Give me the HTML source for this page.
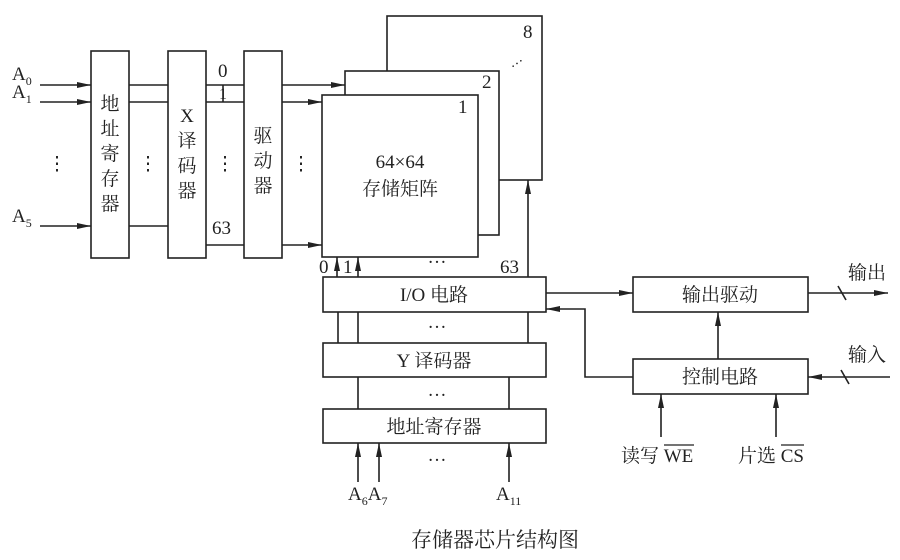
<!DOCTYPE html>
<html><head><meta charset="utf-8"><style>
html,body{margin:0;padding:0;background:#fff}
svg{display:block}
text{font-family:"Liberation Serif","Noto Serif CJK SC","Noto Sans CJK SC",serif;fill:#222}
</style></head><body>
<svg width="900" height="560" viewBox="0 0 900 560" xmlns="http://www.w3.org/2000/svg">
<defs><marker id="a" markerWidth="14" markerHeight="8" refX="14" refY="4" orient="auto" markerUnits="userSpaceOnUse"><path d="M0,1 L14,4 L0,7 Z" fill="#222"/></marker></defs>
<g stroke="#222" stroke-width="1.6" fill="#fff">
<rect x="387" y="16" width="155" height="164"/>
<rect x="345" y="71" width="154" height="164"/>
<rect x="322" y="95" width="156" height="162"/>
<rect x="91" y="51" width="38" height="207"/>
<rect x="168" y="51" width="38" height="207"/>
<rect x="244" y="51" width="38" height="207"/>
<rect x="323" y="277" width="223" height="35"/>
<rect x="323" y="343" width="223" height="34"/>
<rect x="323" y="409" width="223" height="34"/>
<rect x="633" y="277" width="175" height="35"/>
<rect x="633" y="359" width="175" height="35"/>
</g>
<g stroke="#222" stroke-width="1.6" fill="none">
<line x1="40" y1="85" x2="91" y2="85" marker-end="url(#a)"/>
<line x1="40" y1="102" x2="91" y2="102" marker-end="url(#a)"/>
<line x1="40" y1="226" x2="91" y2="226" marker-end="url(#a)"/>
<line x1="129" y1="85" x2="168" y2="85"/><line x1="129" y1="102" x2="168" y2="102"/><line x1="129" y1="226" x2="168" y2="226"/>
<line x1="206" y1="85" x2="244" y2="85"/><line x1="206" y1="102" x2="244" y2="102"/><line x1="206" y1="245" x2="244" y2="245"/>
<line x1="223" y1="85" x2="223" y2="102"/>
<line x1="282" y1="85" x2="345" y2="85" marker-end="url(#a)"/>
<line x1="282" y1="102" x2="322" y2="102" marker-end="url(#a)"/>
<line x1="282" y1="245" x2="322" y2="245" marker-end="url(#a)"/>
<line x1="528" y1="277" x2="528" y2="180" marker-end="url(#a)"/>
<line x1="337" y1="277" x2="337" y2="257" marker-end="url(#a)"/>
<line x1="358" y1="277" x2="358" y2="257" marker-end="url(#a)"/>
<line x1="338" y1="312" x2="338" y2="343"/><line x1="358" y1="312" x2="358" y2="343"/><line x1="528" y1="312" x2="528" y2="343"/>
<line x1="358" y1="377" x2="358" y2="409"/><line x1="509" y1="377" x2="509" y2="409"/>
<line x1="358" y1="482" x2="358" y2="443" marker-end="url(#a)"/>
<line x1="379" y1="482" x2="379" y2="443" marker-end="url(#a)"/>
<line x1="509" y1="482" x2="509" y2="443" marker-end="url(#a)"/>
<line x1="546" y1="293" x2="633" y2="293" marker-end="url(#a)"/>
<polyline points="633,377 585,377 585,309 546,309" marker-end="url(#a)"/>
<line x1="718" y1="359" x2="718" y2="312" marker-end="url(#a)"/>
<line x1="808" y1="293" x2="888" y2="293" marker-end="url(#a)"/>
<line x1="838" y1="286" x2="846" y2="300"/>
<line x1="890" y1="377" x2="808" y2="377" marker-end="url(#a)"/>
<line x1="841" y1="370" x2="849" y2="384"/>
<line x1="661" y1="437" x2="661" y2="394" marker-end="url(#a)"/>
<line x1="776" y1="437" x2="776" y2="394" marker-end="url(#a)"/>
</g>
<g font-size="19">
<text x="12" y="80">A<tspan font-size="12" dy="5">0</tspan></text>
<text x="12" y="98">A<tspan font-size="12" dy="5">1</tspan></text>
<text x="12" y="222">A<tspan font-size="12" dy="5">5</tspan></text>
<text x="218" y="77">0</text><text x="219" y="99" font-size="16">1</text><text x="212" y="234">63</text>
<g text-anchor="middle">
<text x="57" y="170">⋮</text><text x="148" y="170">⋮</text><text x="225" y="170">⋮</text><text x="301" y="170">⋮</text>
<text x="110" y="110">地</text><text x="110" y="135">址</text><text x="110" y="160">寄</text><text x="110" y="185">存</text><text x="110" y="210">器</text>
<text x="187" y="122">X</text><text x="187" y="147">译</text><text x="187" y="172">码</text><text x="187" y="197">器</text>
<text x="263" y="142">驱</text><text x="263" y="167">动</text><text x="263" y="192">器</text>
<text x="400" y="168">64×64</text><text x="400" y="195">存储矩阵</text>
<text x="437" y="263">…</text><text x="437" y="328">…</text><text x="437" y="396">…</text><text x="437" y="461">…</text>
<text x="434" y="301">I/O 电路</text><text x="434" y="367">Y 译码器</text><text x="434" y="433">地址寄存器</text>
<text x="720" y="301">输出驱动</text><text x="720" y="383">控制电路</text>
<text x="495" y="547" font-size="21">存储器芯片结构图</text>
</g>
<text x="458" y="113">1</text><text x="482" y="88">2</text><text x="523" y="38">8</text>
<text x="506" y="66" font-size="14" transform="rotate(-35 512 58)">…</text>
<text x="319" y="273">0</text><text x="343" y="273">1</text><text x="500" y="273">63</text>
<text x="348" y="500">A<tspan font-size="12" dy="5">6</tspan><tspan dy="-5">A</tspan><tspan font-size="12" dy="5">7</tspan></text>
<text x="496" y="500">A<tspan font-size="12" dy="5">11</tspan></text>
<text x="848" y="279">输出</text><text x="848" y="361">输入</text>
<text x="621" y="462">读写 WE</text>
<text x="738" y="462">片选 CS</text>
</g>
<line x1="664" y1="445" x2="694" y2="445" stroke="#222" stroke-width="1.2"/>
<line x1="781" y1="445" x2="804" y2="445" stroke="#222" stroke-width="1.2"/>
</svg>
</body></html>
